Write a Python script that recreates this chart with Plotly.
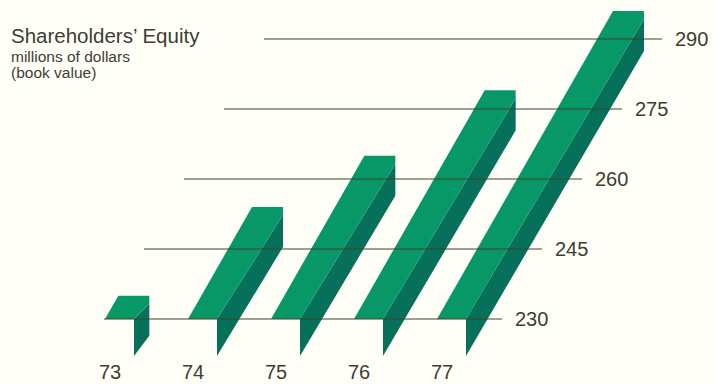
import plotly.graph_objects as go

# Shareholders' equity by year, millions of dollars
years = [73, 74, 75, 76, 77]
equity = [235, 254, 265, 279, 296]
scale_values = [230, 245, 260, 275, 290]
title_lines = ["Shareholders’ Equity", "millions of dollars", "(book value)"]

LIGHT = "#089868"
DARK = "#06705b"
RULE = "#3e4524"
INK = "#3d3d33"
PAPER = "#fffff8"
FONT = "Liberation Sans, Arial, sans-serif"

# Oblique projection: higher values lean to the right
PX_PER_YEAR = 83.0
PX_PER_UNIT = 70.0 / 15
BASE = 230
SHEAR = (40.0 / PX_PER_YEAR) / 15   # years of lean per unit of value
FACE_WIDTH = 29.0 / PX_PER_YEAR
TOP_EXTRA = 2.0 / PX_PER_YEAR       # top edge is slightly wider than the base
FOLD = 8.0 / PX_PER_UNIT            # where the front face meets the side on the right edge
DROP_TIP = 37.0 / PX_PER_UNIT       # side face depth at the base
DROP_END = 40.0 / PX_PER_UNIT       # side face depth at the far end


def lean(year, value):
    return year + (value - BASE) * SHEAR


fig = go.Figure()

for year, value in zip(years, equity):
    left_top = lean(year, value)
    right_top = left_top + FACE_WIDTH + TOP_EXTRA
    base_right = year + FACE_WIDTH
    # Side face, running from the base up to the far end of the bar
    fig.add_trace(go.Scatter(
        x=[base_right, base_right, right_top, right_top, base_right],
        y=[BASE, BASE - DROP_TIP, value - DROP_END, value - FOLD, BASE],
        mode="lines", fill="toself", fillcolor=DARK,
        line=dict(width=0, color=DARK), hoverinfo="skip", showlegend=False,
    ))
    # Front face
    fig.add_trace(go.Scatter(
        x=[year, left_top, right_top, right_top, base_right, year],
        y=[BASE, value, value, value - FOLD, BASE, BASE],
        mode="lines", fill="toself", fillcolor=LIGHT,
        line=dict(width=0, color=LIGHT), hoverinfo="skip", showlegend=False,
    ))

# Scale rules climb with the same lean as the bars
RULE_LENGTH = 398.0 / PX_PER_YEAR
RULE_START = -1.0 / PX_PER_YEAR
for value in scale_values:
    start = lean(years[0], value) + RULE_START
    fig.add_trace(go.Scatter(
        x=[start, start + RULE_LENGTH], y=[value, value],
        mode="lines", line=dict(color=RULE, width=1),
        hoverinfo="skip", showlegend=False,
    ))

# Value labels at the right end of each rule
fig.add_trace(go.Scatter(
    x=[lean(years[0], v) + RULE_LENGTH + 12.0 / PX_PER_YEAR for v in scale_values],
    y=[v - 0.35 for v in scale_values],
    mode="text", text=[str(v) for v in scale_values], textposition="middle right",
    textfont=dict(family=FONT, size=20, color=INK),
    hoverinfo="skip", showlegend=False,
))

# Year labels below the bars
fig.add_trace(go.Scatter(
    x=[y + 5.0 / PX_PER_YEAR for y in years],
    y=[BASE - 55.0 / PX_PER_UNIT] * len(years),
    mode="text", text=[str(y) for y in years], textposition="middle center",
    textfont=dict(family=FONT, size=20, color=INK),
    hoverinfo="skip", showlegend=False,
))

fig.add_annotation(
    xref="paper", yref="paper", x=10 / 715, y=1 - 35 / 384, xanchor="left", yanchor="middle",
    text=title_lines[0], showarrow=False, borderpad=0, font=dict(family=FONT, size=20.5, color=INK),
)
for line, py in zip(title_lines[1:], [56, 73]):
    fig.add_annotation(
        xref="paper", yref="paper", x=10 / 715, y=1 - py / 384, xanchor="left", yanchor="middle",
        text=line, showarrow=False, borderpad=0, font=dict(family=FONT, size=15.5, color=INK),
    )

x_left = years[0] - 105 / PX_PER_YEAR
y_top = BASE + 319 / PX_PER_UNIT
fig.update_layout(
    width=715, height=384, autosize=False,
    margin=dict(l=0, r=0, t=0, b=0),
    paper_bgcolor=PAPER, plot_bgcolor=PAPER,
    xaxis=dict(range=[x_left, x_left + 715 / PX_PER_YEAR], visible=False, fixedrange=True),
    yaxis=dict(range=[y_top - 384 / PX_PER_UNIT, y_top], visible=False, fixedrange=True),
    showlegend=False,
)

fig.write_html("out.html", config={"displayModeBar": False})
